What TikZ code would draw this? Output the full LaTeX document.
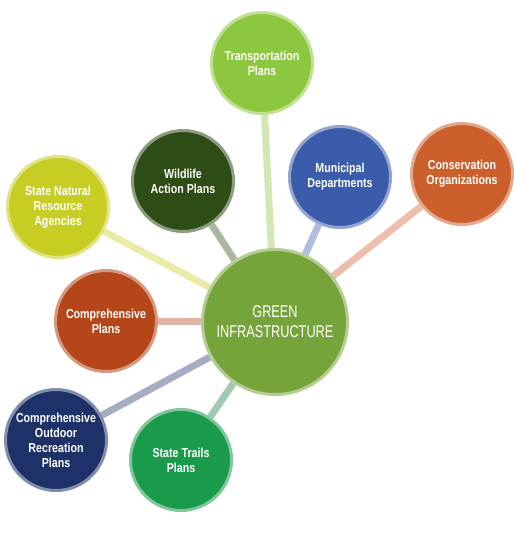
\documentclass[tikz,border=0pt]{standalone}
\usepackage{fontspec}
\newfontfamily\bubblefont[FakeStretch=0.82]{Liberation Sans}
\newfontfamily\hubfont[FakeStretch=0.75]{Liberation Sans}
\usetikzlibrary{backgrounds}
\definecolor{hubgreen}{RGB}{118,164,59}
\definecolor{transgreen}{RGB}{141,198,63}
\definecolor{wilddark}{RGB}{45,76,22}
\definecolor{muniblue}{RGB}{58,92,170}
\definecolor{consorange}{RGB}{204,96,44}
\definecolor{stateyellow}{RGB}{200,205,35}
\definecolor{comprust}{RGB}{180,70,25}
\definecolor{outnavy}{RGB}{30,50,105}
\definecolor{trailgreen}{RGB}{25,155,75}

\begin{document}
\begin{tikzpicture}[x=1pt, y=-1pt,
  bubble/.style={circle, fill=#1, draw=#1!55!white, line width=3pt, minimum size=101pt,
    inner sep=0pt, text=white, align=center, font=\bubblefont\bfseries\fontsize{13}{15}\selectfont},
  link/.style={line width=7pt, draw=#1!40!white}]
  \useasboundingbox (0,0) rectangle (514,544);

  \node[bubble=hubgreen, minimum size=145pt, font=\hubfont\fontsize{17}{20}\selectfont] (green) at (275,322) {GREEN\\INFRASTRUCTURE};

  \node[bubble=transgreen] (trans) at (262,63) {Transportation\\Plans};
  \node[bubble=wilddark] (wild) at (183,181) {Wildlife\\Action Plans};
  \node[bubble=muniblue] (muni) at (340,177) {Municipal\\Departments};
  \node[bubble=consorange] (cons) at (462,174) {Conservation\\Organizations};
  \node[bubble=stateyellow] (statenr) at (58,207) {State Natural\\Resource\\Agencies};
  \node[bubble=comprust] (compplan) at (106,321) {Comprehensive\\Plans};
  \node[bubble=outnavy] (outdoor) at (56,440) {Comprehensive\\Outdoor\\Recreation\\Plans};
  \node[bubble=trailgreen] (trails) at (181,460) {State Trails\\Plans};

  \begin{scope}[on background layer]
    \draw[link=transgreen] (trans) -- (green);
    \draw[link=wilddark] (wild) -- (green);
    \draw[link=muniblue] (muni) -- (green);
    \draw[link=consorange] (cons) -- (green);
    \draw[link=stateyellow] (statenr) -- (green);
    \draw[link=comprust] (compplan) -- (green);
    \draw[link=outnavy] (outdoor) -- (green);
    \draw[link=trailgreen!80!black] (trails) -- (green);
  \end{scope}
\end{tikzpicture}
\end{document}
